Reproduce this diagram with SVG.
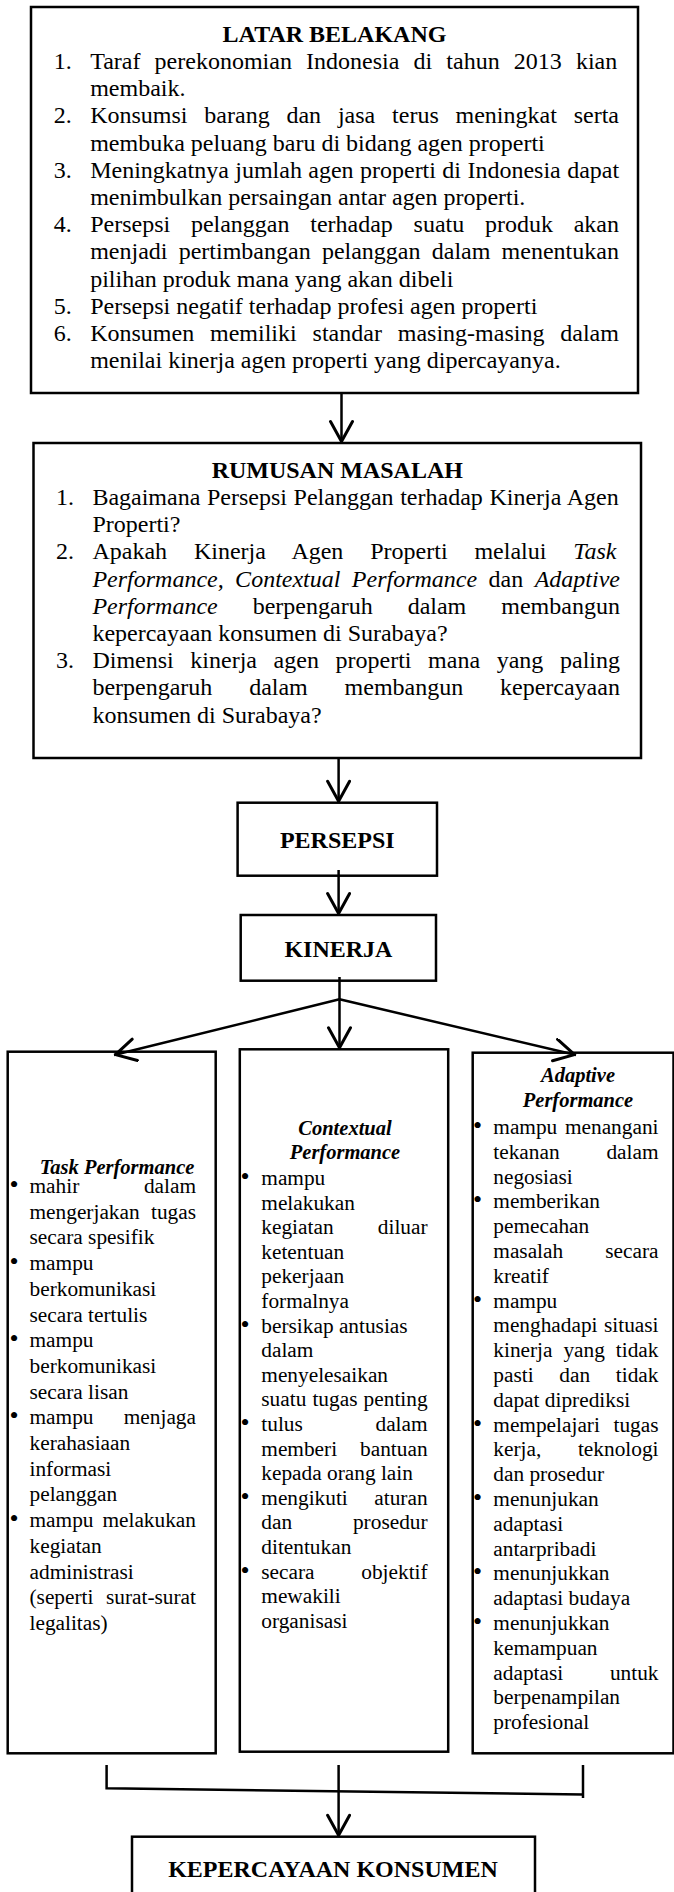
<svg xmlns="http://www.w3.org/2000/svg" width="674" height="1892" viewBox="0 0 674 1892">
<defs>
<style>
.box{fill:#fff;stroke:#000;stroke-width:2.5}
text{font-family:"Liberation Serif","Times New Roman",serif;fill:#000}
.t{font-size:24px}
.hd{font-size:24px;font-weight:bold;text-anchor:middle}
.c{font-size:21.33px}
.ch{font-size:20.5px;font-weight:bold;font-style:italic;text-anchor:middle}
.i{font-style:italic}
.e{text-anchor:end}
.bl{font-size:26px;text-anchor:middle}
.conn{stroke:#000;stroke-width:2.5;fill:none}
.arr{marker-end:url(#ah)}
</style>
<marker id="ah" markerUnits="userSpaceOnUse" markerWidth="30" markerHeight="30" viewBox="0 0 30 30" refX="24.5" refY="12" orient="auto">
<path d="M3,1 L23,12 L3,23" fill="none" stroke="#000" stroke-width="3" stroke-linejoin="round" stroke-linecap="round"/>
</marker>
</defs>
<rect width="674" height="1892" fill="#fff"/>

<g id="latar-belakang">
<rect class="box" x="31" y="7" width="607" height="386"/>
<text class="hd" x="334.5" y="42">LATAR BELAKANG</text>
<text class="t" x="53.7" y="69">1.</text>
<text class="t" x="90.2" y="69" word-spacing="8.15">Taraf perekonomian Indonesia di tahun 2013 kian</text>
<text class="t" x="90.2" y="96.2">membaik.</text>
<text class="t" x="53.7" y="123.4">2.</text>
<text class="t" x="90.2" y="123.4" word-spacing="10.82">Konsumsi barang dan jasa terus meningkat serta</text>
<text class="t" x="90.2" y="150.6">membuka peluang baru di bidang agen properti</text>
<text class="t" x="53.7" y="177.8">3.</text>
<text class="t" x="90.2" y="177.8" word-spacing="0.4">Meningkatnya jumlah agen properti di Indonesia dapat</text>
<text class="t" x="90.2" y="205">menimbulkan persaingan antar agen properti.</text>
<text class="t" x="53.7" y="232.2">4.</text>
<text class="t" x="90.2" y="232.2" word-spacing="14.72">Persepsi pelanggan terhadap suatu produk akan</text>
<text class="t" x="90.2" y="259.4" word-spacing="5.22">menjadi pertimbangan pelanggan dalam menentukan</text>
<text class="t" x="90.2" y="286.6">pilihan produk mana yang akan dibeli</text>
<text class="t" x="53.7" y="313.8">5.</text>
<text class="t" x="90.2" y="313.8">Persepsi negatif terhadap profesi agen properti</text>
<text class="t" x="53.7" y="341">6.</text>
<text class="t" x="90.2" y="341" word-spacing="9.87">Konsumen memiliki standar masing-masing dalam</text>
<text class="t" x="90.2" y="368.2">menilai kinerja agen properti yang dipercayanya.</text>
</g>

<g id="rumusan-masalah">
<rect class="box" x="33.5" y="443" width="607.5" height="315"/>
<text class="hd" x="337.3" y="478">RUMUSAN MASALAH</text>
<text class="t" x="56" y="505">1.</text>
<text class="t" x="92.4" y="505" word-spacing="0.62">Bagaimana Persepsi Pelanggan terhadap Kinerja Agen</text>
<text class="t" x="92.4" y="532.2">Properti?</text>
<text class="t" x="56" y="559.4">2.</text>
<text class="t" x="92.4" y="559.4" word-spacing="20.86">Apakah Kinerja Agen Properti melalui <tspan class="i">Task</tspan></text>
<text class="t" x="92.4" y="586.6" word-spacing="5.43"><tspan class="i">Performance, Contextual Performance</tspan> dan <tspan class="i">Adaptive</tspan></text>
<text class="t" x="92.4" y="613.8" word-spacing="29"><tspan class="i">Performance</tspan> berpengaruh dalam membangun</text>
<text class="t" x="92.4" y="641">kepercayaan konsumen di Surabaya?</text>
<text class="t" x="56" y="668.2">3.</text>
<text class="t" x="92.4" y="668.2" word-spacing="10.62">Dimensi kinerja agen properti mana yang paling</text>
<text class="t" x="92.4" y="695.4" word-spacing="30.8">berpengaruh dalam membangun kepercayaan</text>
<text class="t" x="92.4" y="722.6">konsumen di Surabaya?</text>
</g>

<g id="persepsi">
<rect class="box" x="237.6" y="802.7" width="199.4" height="73"/>
<text class="hd" x="337.3" y="848.3">PERSEPSI</text>
</g>

<g id="kinerja">
<rect class="box" x="240.7" y="915" width="195.3" height="65.7"/>
<text class="hd" x="338.4" y="956.7">KINERJA</text>
</g>

<g id="task-performance">
<rect class="box" x="7.7" y="1051.7" width="208" height="701.6"/>
<text class="ch" x="117" y="1173.5">Task Performance</text>
<text class="c bl" x="14" y="1193">•</text>
<text class="c" x="29.5" y="1193">mahir</text><text class="c e" x="196" y="1193">dalam</text>
<text class="c" x="29.5" y="1218.7">mengerjakan</text><text class="c e" x="196" y="1218.7">tugas</text>
<text class="c" x="29.5" y="1244.4">secara spesifik</text>
<text class="c bl" x="14" y="1270.1">•</text>
<text class="c" x="29.5" y="1270.1">mampu</text>
<text class="c" x="29.5" y="1295.8">berkomunikasi</text>
<text class="c" x="29.5" y="1321.5">secara tertulis</text>
<text class="c bl" x="14" y="1347.2">•</text>
<text class="c" x="29.5" y="1347.2">mampu</text>
<text class="c" x="29.5" y="1372.9">berkomunikasi</text>
<text class="c" x="29.5" y="1398.6">secara lisan</text>
<text class="c bl" x="14" y="1424.3">•</text>
<text class="c" x="29.5" y="1424.3">mampu</text><text class="c e" x="196" y="1424.3">menjaga</text>
<text class="c" x="29.5" y="1450">kerahasiaan</text>
<text class="c" x="29.5" y="1475.7">informasi</text>
<text class="c" x="29.5" y="1501.4">pelanggan</text>
<text class="c bl" x="14" y="1527.1">•</text>
<text class="c" x="29.5" y="1527.1">mampu</text><text class="c e" x="196" y="1527.1">melakukan</text>
<text class="c" x="29.5" y="1552.8">kegiatan</text>
<text class="c" x="29.5" y="1578.5">administrasi</text>
<text class="c" x="29.5" y="1604.2">(seperti</text><text class="c e" x="196" y="1604.2">surat-surat</text>
<text class="c" x="29.5" y="1629.9">legalitas)</text>
</g>

<g id="contextual-performance">
<rect class="box" x="239.8" y="1049.3" width="208.4" height="702.4"/>
<text class="ch" x="345" y="1134.5">Contextual</text>
<text class="ch" x="345" y="1158.5">Performance</text>
<text class="c bl" x="245" y="1185">•</text>
<text class="c" x="261.3" y="1185">mampu</text>
<text class="c" x="261.3" y="1209.6">melakukan</text>
<text class="c" x="261.3" y="1234.2">kegiatan</text><text class="c e" x="427.6" y="1234.2">diluar</text>
<text class="c" x="261.3" y="1258.8">ketentuan</text>
<text class="c" x="261.3" y="1283.4">pekerjaan</text>
<text class="c" x="261.3" y="1308">formalnya</text>
<text class="c bl" x="245" y="1332.6">•</text>
<text class="c" x="261.3" y="1332.6">bersikap antusias</text>
<text class="c" x="261.3" y="1357.2">dalam</text>
<text class="c" x="261.3" y="1381.8">menyelesaikan</text>
<text class="c" x="261.3" y="1406.4" word-spacing="0.8">suatu tugas penting</text>
<text class="c bl" x="245" y="1431">•</text>
<text class="c" x="261.3" y="1431">tulus</text><text class="c e" x="427.6" y="1431">dalam</text>
<text class="c" x="261.3" y="1455.6">memberi</text><text class="c e" x="427.6" y="1455.6">bantuan</text>
<text class="c" x="261.3" y="1480.2">kepada orang lain</text>
<text class="c bl" x="245" y="1504.8">•</text>
<text class="c" x="261.3" y="1504.8">mengikuti</text><text class="c e" x="427.6" y="1504.8">aturan</text>
<text class="c" x="261.3" y="1529.4">dan</text><text class="c e" x="427.6" y="1529.4">prosedur</text>
<text class="c" x="261.3" y="1554">ditentukan</text>
<text class="c bl" x="245" y="1578.6">•</text>
<text class="c" x="261.3" y="1578.6">secara</text><text class="c e" x="427.6" y="1578.6">objektif</text>
<text class="c" x="261.3" y="1603.2">mewakili</text>
<text class="c" x="261.3" y="1627.8">organisasi</text>
</g>

<g id="adaptive-performance">
<rect class="box" x="472.7" y="1052.7" width="200.8" height="700.6"/>
<text class="ch" x="578" y="1081.7">Adaptive</text>
<text class="ch" x="578" y="1106.5">Performance</text>
<text class="c bl" x="477.5" y="1134">•</text>
<text class="c" x="493.3" y="1134">mampu</text><text class="c e" x="658.5" y="1134">menangani</text>
<text class="c" x="493.3" y="1158.8">tekanan</text><text class="c e" x="658.5" y="1158.8">dalam</text>
<text class="c" x="493.3" y="1183.6">negosiasi</text>
<text class="c bl" x="477.5" y="1208.4">•</text>
<text class="c" x="493.3" y="1208.4">memberikan</text>
<text class="c" x="493.3" y="1233.2">pemecahan</text>
<text class="c" x="493.3" y="1258">masalah</text><text class="c e" x="658.5" y="1258">secara</text>
<text class="c" x="493.3" y="1282.8">kreatif</text>
<text class="c bl" x="477.5" y="1307.6">•</text>
<text class="c" x="493.3" y="1307.6">mampu</text>
<text class="c" x="493.3" y="1332.4">menghadapi</text><text class="c e" x="658.5" y="1332.4">situasi</text>
<text class="c" x="493.3" y="1357.2" word-spacing="5.57">kinerja yang tidak</text>
<text class="c" x="493.3" y="1382" word-spacing="20.37">pasti dan tidak</text>
<text class="c" x="493.3" y="1406.8">dapat diprediksi</text>
<text class="c bl" x="477.5" y="1431.6">•</text>
<text class="c" x="493.3" y="1431.6">mempelajari</text><text class="c e" x="658.5" y="1431.6">tugas</text>
<text class="c" x="493.3" y="1456.4">kerja,</text><text class="c e" x="658.5" y="1456.4">teknologi</text>
<text class="c" x="493.3" y="1481.2">dan prosedur</text>
<text class="c bl" x="477.5" y="1506">•</text>
<text class="c" x="493.3" y="1506">menunjukan</text>
<text class="c" x="493.3" y="1530.8">adaptasi</text>
<text class="c" x="493.3" y="1555.6">antarpribadi</text>
<text class="c bl" x="477.5" y="1580.4">•</text>
<text class="c" x="493.3" y="1580.4">menunjukkan</text>
<text class="c" x="493.3" y="1605.2">adaptasi budaya</text>
<text class="c bl" x="477.5" y="1630">•</text>
<text class="c" x="493.3" y="1630">menunjukkan</text>
<text class="c" x="493.3" y="1654.8">kemampuan</text>
<text class="c" x="493.3" y="1679.6">adaptasi</text><text class="c e" x="658.5" y="1679.6">untuk</text>
<text class="c" x="493.3" y="1704.4">berpenampilan</text>
<text class="c" x="493.3" y="1729.2">profesional</text>
</g>

<g id="kepercayaan-konsumen">
<rect class="box" x="132" y="1836.7" width="403" height="70"/>
<text class="hd" x="333" y="1876.7">KEPERCAYAAN KONSUMEN</text>
</g>

<g id="connectors">
<line class="conn arr" x1="341.5" y1="393" x2="341.5" y2="443"/>
<line class="conn arr" x1="338.6" y1="758" x2="338.6" y2="802.7"/>
<line class="conn arr" x1="338.6" y1="870" x2="338.6" y2="915"/>
<line class="conn arr" x1="339.5" y1="977" x2="339.5" y2="1049.3"/>
<line class="conn arr" x1="339.5" y1="999.3" x2="114" y2="1055"/>
<line class="conn arr" x1="339.5" y1="999.3" x2="576" y2="1055"/>
<polyline class="conn" points="106.6,1765 106.6,1788.3 583,1794.5"/>
<line class="conn" x1="583" y1="1765" x2="583" y2="1798"/>
<line class="conn arr" x1="338.6" y1="1765" x2="338.6" y2="1836.7"/>
</g>
</svg>
